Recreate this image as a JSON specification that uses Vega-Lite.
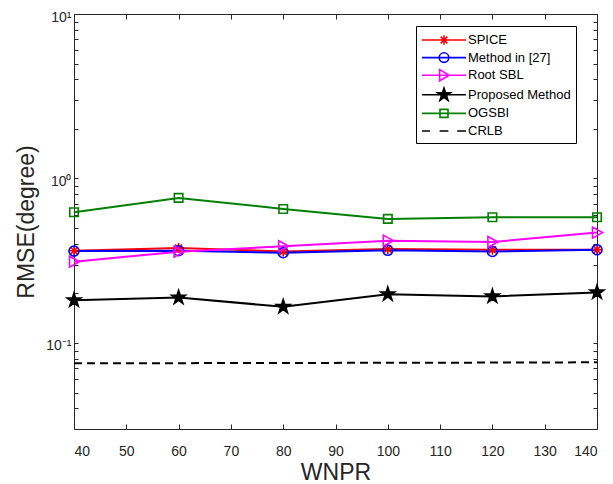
{
  "$schema": "https://vega.github.io/schema/vega-lite/v6.json",
  "width": 523,
  "height": 415,
  "autosize": {"type": "none"},
  "padding": {"left": 74, "top": 14, "right": 16, "bottom": 55},
  "background": "white",
  "config": {
    "view": {"stroke": null},
    "font": "Liberation Sans",
    "axis": {
      "grid": false,
      "domainColor": "#262626",
      "tickColor": "#262626",
      "labelColor": "#262626",
      "titleColor": "#262626",
      "labelFont": "Liberation Sans",
      "titleFont": "Liberation Sans",
      "labelFontSize": 14,
      "titleFontSize": 23,
      "titleFontWeight": "normal",
      "domainWidth": 1,
      "tickWidth": 1
    }
  },
  "data": {
    "values": [
      {"x": 40, "y": 0.364, "s": "SPICE"},
      {"x": 60, "y": 0.378, "s": "SPICE"},
      {"x": 80, "y": 0.36, "s": "SPICE"},
      {"x": 100, "y": 0.373, "s": "SPICE"},
      {"x": 120, "y": 0.369, "s": "SPICE"},
      {"x": 140, "y": 0.369, "s": "SPICE"},
      {"x": 40, "y": 0.362, "s": "Method in [27]"},
      {"x": 60, "y": 0.364, "s": "Method in [27]"},
      {"x": 80, "y": 0.354, "s": "Method in [27]"},
      {"x": 100, "y": 0.366, "s": "Method in [27]"},
      {"x": 120, "y": 0.36, "s": "Method in [27]"},
      {"x": 140, "y": 0.369, "s": "Method in [27]"},
      {"x": 40, "y": 0.312, "s": "Root SBL"},
      {"x": 60, "y": 0.359, "s": "Root SBL"},
      {"x": 80, "y": 0.387, "s": "Root SBL"},
      {"x": 100, "y": 0.419, "s": "Root SBL"},
      {"x": 120, "y": 0.411, "s": "Root SBL"},
      {"x": 140, "y": 0.469, "s": "Root SBL"},
      {"x": 40, "y": 0.182, "s": "Proposed Method"},
      {"x": 60, "y": 0.189, "s": "Proposed Method"},
      {"x": 80, "y": 0.166, "s": "Proposed Method"},
      {"x": 100, "y": 0.198, "s": "Proposed Method"},
      {"x": 120, "y": 0.192, "s": "Proposed Method"},
      {"x": 140, "y": 0.203, "s": "Proposed Method"},
      {"x": 40, "y": 0.623, "s": "OGSBI"},
      {"x": 60, "y": 0.762, "s": "OGSBI"},
      {"x": 80, "y": 0.653, "s": "OGSBI"},
      {"x": 100, "y": 0.568, "s": "OGSBI"},
      {"x": 120, "y": 0.581, "s": "OGSBI"},
      {"x": 140, "y": 0.581, "s": "OGSBI"},
      {"x": 40, "y": 0.0752, "s": "CRLB"},
      {"x": 60, "y": 0.0754, "s": "CRLB"},
      {"x": 80, "y": 0.0756, "s": "CRLB"},
      {"x": 100, "y": 0.0758, "s": "CRLB"},
      {"x": 120, "y": 0.076, "s": "CRLB"},
      {"x": 140, "y": 0.0763, "s": "CRLB"}
    ]
  },
  "resolve": {
    "scale": {"shape": "independent", "stroke": "independent", "fill": "independent"},
    "axis": {"x": "independent", "y": "independent"}
  },
  "layer": [
    {
      "transform": [{"filter": "datum.s !== 'CRLB'"}],
      "mark": {"type": "line", "strokeWidth": 2},
      "encoding": {
        "x": {
          "field": "x", "type": "quantitative",
          "scale": {"domain": [40, 140], "nice": false, "zero": false},
          "axis": {
            "orient": "bottom", "title": "WNPR",
            "values": [40, 50, 60, 70, 80, 90, 100, 110, 120, 130, 140],
            "tickSize": -5, "labelPadding": 20, "titlePadding": 3
          }
        },
        "y": {
          "field": "y", "type": "quantitative",
          "scale": {"type": "log", "domain": [0.03, 10], "nice": false},
          "axis": {
            "orient": "left", "title": "RMSE(degree)",
            "values": [0.03, 0.04, 0.05, 0.06, 0.07, 0.08, 0.09, 0.1, 0.2, 0.3, 0.4, 0.5, 0.6, 0.7, 0.8, 0.9, 1, 2, 3, 4, 5, 6, 7, 8, 9, 10],
            "labelExpr": "datum.value == 0.1 ? '10⁻¹' : datum.value == 1 ? '10⁰' : datum.value == 10 ? '10¹' : ''",
            "tickSize": -4, "labelPadding": 7, "labelOffset": 3, "titlePadding": 7
          }
        },
        "stroke": {
          "field": "s", "type": "nominal",
          "scale": {
            "domain": ["SPICE", "Method in [27]", "Root SBL", "Proposed Method", "OGSBI"],
            "range": ["#ff0000", "#0000ff", "#ff00ff", "#000000", "#008000"]
          },
          "legend": null
        },
        "detail": {"field": "s"}
      }
    },
    {
      "transform": [{"filter": "datum.s === 'CRLB'"}],
      "mark": {"type": "line", "strokeWidth": 2, "strokeDash": [8, 5], "color": "#000000"},
      "encoding": {
        "x": {
          "field": "x", "type": "quantitative",
          "axis": {
            "orient": "top", "title": null, "labels": false,
            "values": [40, 50, 60, 70, 80, 90, 100, 110, 120, 130, 140],
            "tickSize": -5
          }
        },
        "y": {
          "field": "y", "type": "quantitative",
          "axis": {
            "orient": "right", "title": null, "labels": false,
            "values": [0.03, 0.04, 0.05, 0.06, 0.07, 0.08, 0.09, 0.1, 0.2, 0.3, 0.4, 0.5, 0.6, 0.7, 0.8, 0.9, 1, 2, 3, 4, 5, 6, 7, 8, 9, 10],
            "tickSize": -4
          }
        }
      }
    },
    {
      "transform": [{"filter": "datum.s !== 'CRLB'"}],
      "mark": {"type": "point", "filled": true, "size": 100, "strokeWidth": 1.6, "opacity": 1},
      "encoding": {
        "x": {"field": "x", "type": "quantitative", "axis": null},
        "y": {"field": "y", "type": "quantitative", "axis": null},
        "shape": {
          "field": "s", "type": "nominal",
          "scale": {
            "domain": ["SPICE", "Method in [27]", "Root SBL", "Proposed Method", "OGSBI"],
            "range": [
              "M0,-1V1M-1,0H1M-0.7,-0.7L0.7,0.7M-0.7,0.7L0.7,-0.7",
              "M1,0A1,1,0,1,1,-1,0A1,1,0,1,1,1,0Z",
              "M-0.9,-1.1L1.1,0L-0.9,1.1Z",
              "M0,-1.45L0.326,-0.448L1.379,-0.448L0.526,0.171L0.853,1.173L0,0.554L-0.853,1.173L-0.526,0.171L-1.379,-0.448L-0.326,-0.448Z",
              "M-0.85,-0.85H0.85V0.85H-0.85Z"
            ]
          },
          "legend": null
        },
        "stroke": {
          "field": "s", "type": "nominal",
          "scale": {
            "domain": ["SPICE", "Method in [27]", "Root SBL", "Proposed Method", "OGSBI"],
            "range": ["#ff0000", "#0000ff", "#ff00ff", "#000000", "#008000"]
          },
          "legend": null
        },
        "fill": {
          "field": "s", "type": "nominal",
          "scale": {
            "domain": ["SPICE", "Method in [27]", "Root SBL", "Proposed Method", "OGSBI"],
            "range": ["transparent", "transparent", "transparent", "#000000", "transparent"]
          },
          "legend": null
        }
      }
    },
    {
      "mark": {"type": "point", "opacity": 0, "size": 1},
      "encoding": {
        "x": {"field": "x", "type": "quantitative", "axis": null},
        "y": {"field": "y", "type": "quantitative", "axis": null},
        "stroke": {
          "field": "s", "type": "nominal",
          "scale": {
            "domain": ["SPICE", "Method in [27]", "Root SBL", "Proposed Method", "OGSBI", "CRLB"],
            "range": ["#ff0000", "#0000ff", "#ff00ff", "#000000", "#008000", "#000000"]
          }
        },
        "fill": {
          "field": "s", "type": "nominal",
          "scale": {
            "domain": ["SPICE", "Method in [27]", "Root SBL", "Proposed Method", "OGSBI", "CRLB"],
            "range": ["transparent", "transparent", "transparent", "#000000", "transparent", "transparent"]
          }
        },
        "shape": {
          "field": "s", "type": "nominal",
          "scale": {
            "domain": ["SPICE", "Method in [27]", "Root SBL", "Proposed Method", "OGSBI", "CRLB"],
            "range": [
              "M-2.75,0H2.75M0,-0.6V0.6M-0.6,0H0.6M-0.42,-0.42L0.42,0.42M-0.42,0.42L0.42,-0.42",
              "M-2.75,0H2.75M0.6,0A0.6,0.6,0,1,1,-0.6,0A0.6,0.6,0,1,1,0.6,0Z",
              "M-2.75,0H2.75M-0.55,-0.7L0.65,0L-0.55,0.7Z",
              "M-2.75,0H2.75M0,-0.85L0.191,-0.263L0.808,-0.263L0.309,0.1L0.5,0.688L0,0.325L-0.5,0.688L-0.309,0.1L-0.808,-0.263L-0.191,-0.263Z",
              "M-2.75,0H2.75M-0.5,-0.5H0.5V0.5H-0.5Z",
              "M-2.75,0H-1.76M-0.55,0H0.55M1.65,0H2.75"
            ]
          },
          "legend": {
            "title": null,
            "orient": "none",
            "legendX": 342,
            "legendY": 12,
            "symbolSize": 256,
            "symbolStrokeWidth": 1.6,
            "symbolOpacity": 1,
            "symbolOffset": 14,
            "labelFont": "Liberation Sans",
            "labelFontSize": 13,
            "labelColor": "#000000",
            "labelOffset": 15,
            "rowPadding": 0.6,
            "padding": 5,
            "fillColor": "white",
            "strokeColor": "#000000",
            "cornerRadius": 0
          }
        }
      }
    }
  ]
}
